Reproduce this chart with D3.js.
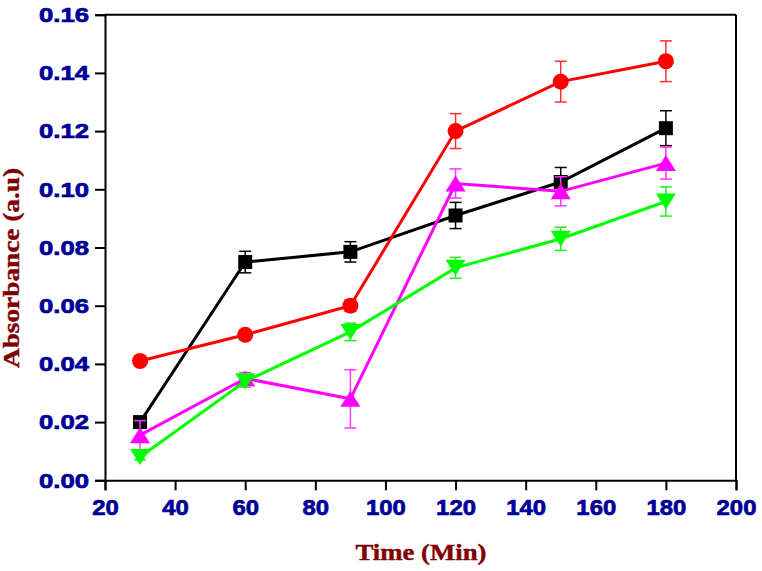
<!DOCTYPE html>
<html>
<head>
<meta charset="utf-8">
<script src="https://cdn.jsdelivr.net/npm/d3@7"></script>
<style>
  html, body { margin: 0; padding: 0; background: #fff; }
  svg { display: block; }
</style>
</head>
<body>
<svg id="chart" width="762" height="571"></svg>
<script>
// ---- data ----
const times = [30, 60, 90, 120, 150, 180];
const xTicks = [20, 40, 60, 80, 100, 120, 140, 160, 180, 200];
const yTicks = [0.00, 0.02, 0.04, 0.06, 0.08, 0.10, 0.12, 0.14, 0.16];

const blackValues   = [0.020, 0.075, 0.0785, 0.091, 0.1025, 0.121];
const blackErrors   = [0.001, 0.0037, 0.0035, 0.0045, 0.005, 0.006];
const redValues     = [0.041, 0.050, 0.060, 0.120, 0.137, 0.144];
const redErrors     = [0.001, 0.0015, 0.002, 0.006, 0.007, 0.007];
const magentaValues = [0.0155, 0.035, 0.028, 0.102, 0.0993, 0.109];
const magentaErrors = [0.005, 0.002, 0.010, 0.005, 0.005, 0.0055];
const greenValues   = [0.008, 0.034, 0.051, 0.073, 0.083, 0.0958];
const greenErrors   = [0.001, 0.002, 0.003, 0.0036, 0.004, 0.005];

const series = [
  { name: "black",   color: "#000000", errColor: "#000000", symbol: "square",   values: blackValues,   errors: blackErrors },
  { name: "red",     color: "#ff0000", errColor: "#ff3030", symbol: "circle",   values: redValues,     errors: redErrors },
  { name: "magenta", color: "#ff00ff", errColor: "#ff33ff", symbol: "triUp",    values: magentaValues, errors: magentaErrors },
  { name: "green",   color: "#00ff00", errColor: "#22ee22", symbol: "triDown",  values: greenValues,   errors: greenErrors }
];

// ---- layout ----
const svg = d3.select("#chart");
const pLeft = 105, pRight = 736, pTop = 14.7, pBottom = 480.3;
const x = d3.scaleLinear().domain([20, 200]).range([pLeft, pRight]);
const y = d3.scaleLinear().domain([0, 0.16]).range([pBottom, pTop]);

const tickColor = "#000099";
const titleColor = "#800000";

// frame (top & right)
svg.append("line").attr("x1", pLeft).attr("x2", pRight).attr("y1", pTop).attr("y2", pTop)
  .attr("stroke", "#000").attr("stroke-width", 2);
svg.append("line").attr("x1", pRight).attr("x2", pRight).attr("y1", pTop).attr("y2", pBottom)
  .attr("stroke", "#000").attr("stroke-width", 2);

// x axis
const gx = svg.append("g").attr("transform", `translate(0,${pBottom})`)
  .call(d3.axisBottom(x).tickValues(xTicks).tickSize(10).tickPadding(9).tickFormat(d3.format("d")));
gx.select(".domain").attr("stroke", "#000").attr("stroke-width", 2);
gx.selectAll(".tick line").attr("stroke", "#000").attr("stroke-width", 2);
gx.selectAll(".tick text")
  .attr("fill", tickColor)
  .attr("stroke", tickColor).attr("stroke-width", 0.7)
  .attr("font-family", "'Liberation Sans', Arial, sans-serif")
  .style("font-family", "'Liberation Sans', Arial, sans-serif")
  .style("font-weight", "bold")
  .style("font-size", "22px")
  .attr("textLength", d => String(d).length * 13.3)
  .attr("lengthAdjust", "spacingAndGlyphs");

// y axis
const gy = svg.append("g").attr("transform", `translate(${pLeft},0)`)
  .call(d3.axisLeft(y).tickValues(yTicks).tickSize(10).tickPadding(6).tickFormat(d3.format(".2f")));
gy.select(".domain").attr("stroke", "#000").attr("stroke-width", 2);
gy.selectAll(".tick line").attr("stroke", "#000").attr("stroke-width", 2);
gy.selectAll(".tick text")
  .attr("fill", tickColor)
  .attr("stroke", tickColor).attr("stroke-width", 0.7)
  .style("font-family", "'Liberation Sans', Arial, sans-serif")
  .style("font-weight", "bold")
  .style("font-size", "21px")
  .attr("textLength", 50)
  .attr("lengthAdjust", "spacingAndGlyphs");

// axis titles
svg.append("text")
  .attr("x", 421).attr("y", 560)
  .attr("text-anchor", "middle")
  .attr("fill", titleColor)
  .attr("stroke", titleColor).attr("stroke-width", 0.4)
  .style("font-family", "'Liberation Serif', 'Times New Roman', serif")
  .style("font-weight", "bold")
  .style("font-size", "23px")
  .attr("textLength", 131)
  .attr("lengthAdjust", "spacingAndGlyphs")
  .text("Time (Min)");

svg.append("text")
  .attr("transform", "translate(19,268) rotate(-90)")
  .attr("text-anchor", "middle")
  .attr("fill", titleColor)
  .attr("stroke", titleColor).attr("stroke-width", 0.4)
  .style("font-family", "'Liberation Serif', 'Times New Roman', serif")
  .style("font-weight", "bold")
  .style("font-size", "23px")
  .attr("textLength", 200)
  .attr("lengthAdjust", "spacingAndGlyphs")
  .text("Absorbance (a.u)");

// ---- series ----
const line = d3.line().x(d => x(d.t)).y(d => y(d.v));
const capHalf = 6;

function markerPath(symbol) {
  switch (symbol) {
    case "square": return "M-7,-7H7V7H-7Z";
    case "circle": return "M-8,0A8,8 0 1,0 8,0A8,8 0 1,0 -8,0Z";
    case "triUp": return "M0,-8L10,8H-10Z";
    case "triDown": return "M0,8L10,-8H-10Z";
  }
}

series.forEach(s => {
  const pts = times.map((t, i) => ({ t, v: s.values[i], e: s.errors[i] }));
  const g = svg.append("g").attr("class", "series-" + s.name);

  // error bars
  const eb = g.selectAll(".err").data(pts).enter().append("g").attr("class", "err")
    .attr("stroke", s.errColor).attr("stroke-width", 1.5);
  eb.append("line").attr("x1", d => x(d.t)).attr("x2", d => x(d.t))
    .attr("y1", d => y(d.v + d.e)).attr("y2", d => y(d.v - d.e));
  eb.append("line").attr("x1", d => x(d.t) - capHalf).attr("x2", d => x(d.t) + capHalf)
    .attr("y1", d => y(d.v + d.e)).attr("y2", d => y(d.v + d.e));
  eb.append("line").attr("x1", d => x(d.t) - capHalf).attr("x2", d => x(d.t) + capHalf)
    .attr("y1", d => y(d.v - d.e)).attr("y2", d => y(d.v - d.e));

  // line
  g.append("path").datum(pts).attr("d", line)
    .attr("fill", "none").attr("stroke", s.color).attr("stroke-width", 3);

  // markers
  g.selectAll(".mk").data(pts).enter().append("path").attr("class", "mk")
    .attr("transform", d => `translate(${x(d.t)},${y(d.v)})`)
    .attr("d", markerPath(s.symbol))
    .attr("fill", s.color);
});
</script>
</body>
</html>
